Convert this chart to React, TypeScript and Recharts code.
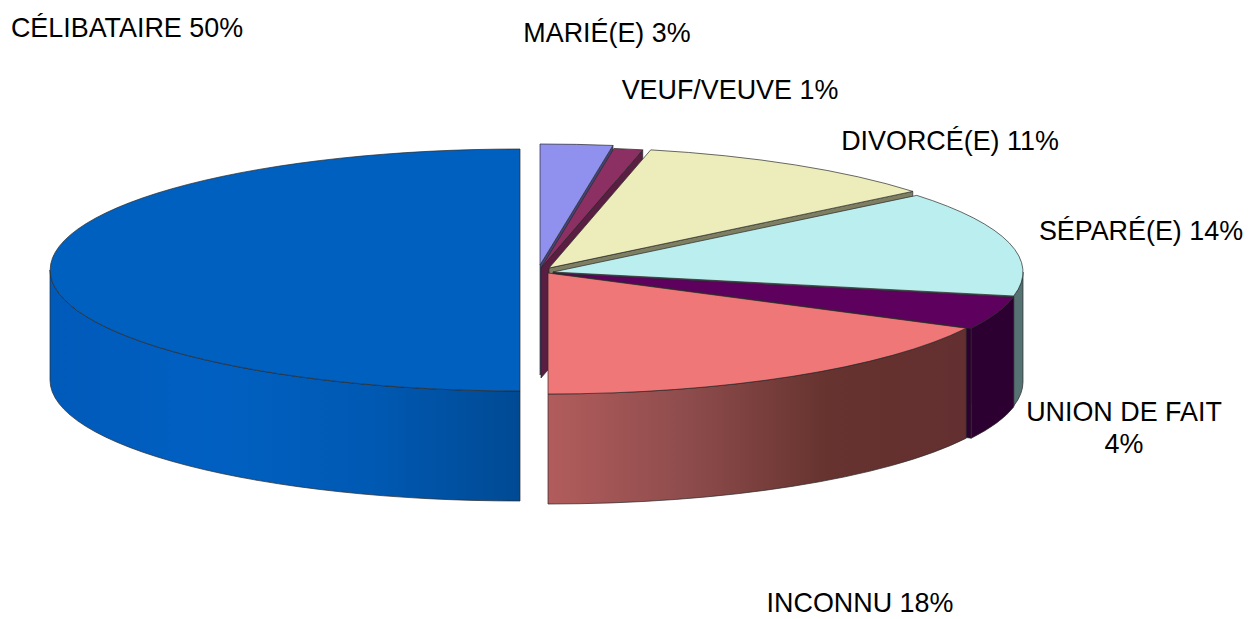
import { PieChart, Pie } from "recharts";

const names = ["MARIÉ(E)", "VEUF/VEUVE", "DIVORCÉ(E)", "SÉPARÉ(E)", "UNION DE FAIT", "INCONNU", "CÉLIBATAIRE"];
// printed labels are these rounded
const values = [2.5, 1.0, 10.7, 14.2, 4.4, 17.6, 50.4];
const topColors = ["#9090EE", "#8C2F62", "#EDEDBC", "#BBEEEE", "#5E005E", "#EF7777", "#0060C0"];
const wallColors = ["#44447A", "#5A1E42", "#7E7E62", "#567272", "#2C0030", "#66332F", "#004C98"];
const sideStops: string[][] = [
  ["#6A6AB0", "#6A6AB0"],
  ["#6A2450", "#6A2450"],
  ["#9A9A7A", "#9A9A7A"],
  ["#567272", "#567272"],
  ["#2C0030", "#2C0030"],
  ["#B25C5C", "#8E4C4C", "#66332F", "#642F30"],
  ["#005ABA", "#0060C2", "#005AB4", "#004A94"],
];

const data = names.map((name, idx) => ({ name, value: values[idx], idx }));

// how far each slice is pulled out of the pie
const pullX = [0, 1, 9, 13, 13, 8, -20];
const pullY = [-5, -2, -2, 2, 3, 3, 0];

const labelX = [607, 730, 950, 1141, 1124, 860, 127];
const labelY = [42, 99, 150, 240, 421, 612, 37];

const RX = 470;
const RY = 121;
const DEPTH = 110;

function Slice3D(props: any) {
  const idx = props.payload?.idx ?? props.idx ?? 0;
  const cx = props.cx + pullX[idx];
  const cy = props.cy + pullY[idx];
  const a = 90 - props.startAngle;
  const b = 90 - props.endAngle;
  const pt = (t: number, drop = 0) => {
    const r = (t * Math.PI) / 180;
    return [cx + RX * Math.sin(r), cy - RY * Math.cos(r) + drop];
  };
  const [x1, y1] = pt(a);
  const [x2, y2] = pt(b);
  const large = b - a > 180 ? 1 : 0;
  const edge = { stroke: "#2a2a2a", strokeWidth: 0.7, strokeLinejoin: "round" as const };

  // outer wall, only the front half of the rim shows
  const from = Math.max(a, 90);
  const to = Math.min(b, 270);
  let wall = null;
  if (to > from) {
    const [wx1, wy1] = pt(from);
    const [wx2, wy2] = pt(to);
    const gid = `side${idx}`;
    const stops = sideStops[idx];
    wall = (
      <>
        <defs>
          <linearGradient id={gid} gradientUnits="userSpaceOnUse" x1={Math.min(wx1, wx2)} y1="0" x2={Math.max(wx1, wx2)} y2="0">
            {stops.map((c, i) => (
              <stop key={i} offset={i / (stops.length - 1)} stopColor={c} />
            ))}
          </linearGradient>
        </defs>
        <path
          d={`M${wx1},${wy1} A${RX},${RY} 0 0 1 ${wx2},${wy2} L${wx2},${wy2 + DEPTH} A${RX},${RY} 0 0 0 ${wx1},${wy1 + DEPTH} Z`}
          fill={`url(#${gid})`}
          {...edge}
        />
      </>
    );
  }

  // cut face at the end of the slice, faces the viewer on the right half
  const cut =
    b > 0 && b < 179 ? (
      <path
        d={`M${cx},${cy} L${x2},${y2} L${x2},${y2 + DEPTH} L${cx},${cy + DEPTH} Z`}
        fill={wallColors[idx]}
        {...edge}
      />
    ) : null;

  return (
    <g>
      {cut}
      {wall}
      <path
        d={`M${cx},${cy} L${x1},${y1} A${RX},${RY} 0 ${large} 1 ${x2},${y2} Z`}
        fill={topColors[idx]}
        {...edge}
      />
    </g>
  );
}

function SliceLabel(props: any) {
  const idx = props.payload?.idx ?? props.index ?? 0;
  const pct = `${Math.round(values[idx])}%`;
  const style = { fontFamily: "'Liberation Sans', Arial, sans-serif", fontSize: 26.9, fill: "#000" };
  if (names[idx] === "UNION DE FAIT") {
    return (
      <text textAnchor="middle" style={style}>
        <tspan x={labelX[idx]} y={labelY[idx]}>{names[idx]}</tspan>
        <tspan x={labelX[idx]} y={labelY[idx] + 32}>{pct}</tspan>
      </text>
    );
  }
  return (
    <text x={labelX[idx]} y={labelY[idx]} textAnchor="middle" style={style}>
      {`${names[idx]} ${pct}`}
    </text>
  );
}

export default function App() {
  return (
    <div style={{ position: "absolute", left: 0, top: 0, width: 1249, height: 619, background: "#fff" }}>
      <PieChart width={1249} height={619} margin={{ top: 0, right: 0, bottom: 0, left: 0 }}>
        <Pie
          data={data}
          dataKey="value"
          nameKey="name"
          cx={540}
          cy={270}
          innerRadius={0}
          outerRadius={RX}
          startAngle={90}
          endAngle={-270}
          stroke="none"
          shape={Slice3D}
          label={SliceLabel}
          labelLine={false}
          isAnimationActive={false}
        />
      </PieChart>
    </div>
  );
}
